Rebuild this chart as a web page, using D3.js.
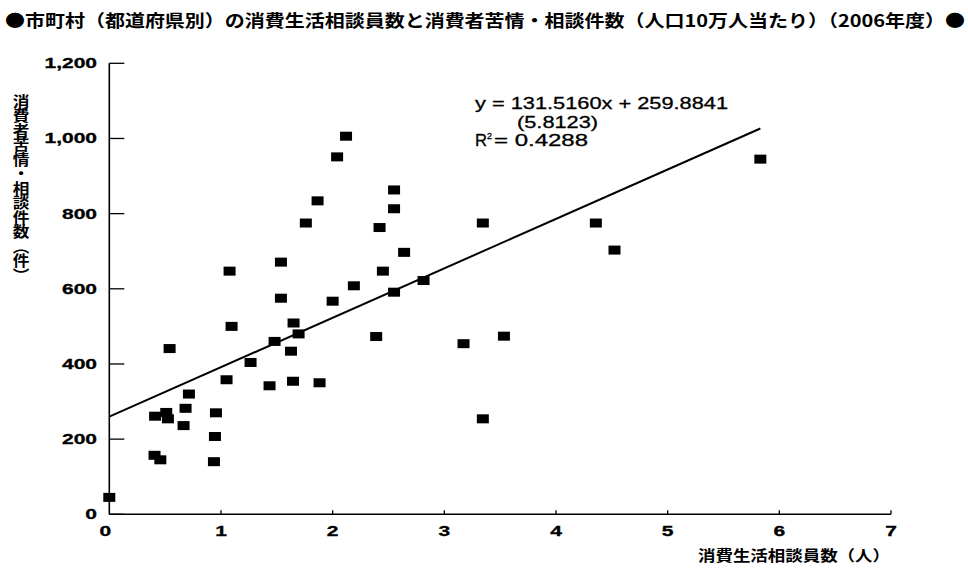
<!DOCTYPE html>
<html><head><meta charset="utf-8">
<script src="https://cdn.jsdelivr.net/npm/d3@7"></script>
<style>
html,body{margin:0;padding:0;background:#fff;}
svg{display:block;}
.cjk{font-family:"Noto Sans CJK JP","Noto Sans CJK SC",sans-serif;font-weight:700;}
.num{font-family:"Liberation Sans",Arial,sans-serif;font-weight:700;stroke:#000;stroke-width:0.3;}
.eq{font-family:"Liberation Sans",Arial,sans-serif;font-weight:400;stroke:#000;stroke-width:0.3;}
</style></head>
<body>
<svg id="chart" width="968" height="569"></svg>
<script>
const titleText = "●市町村（都道府県別）の消費生活相談員数と消費者苦情・相談件数（人口10万人当たり）（2006年度）●";
const yAxisTitle = "消費者苦情・相談件数（件）";
const xAxisTitle = "消費生活相談員数（人）";
const xTicks = [0,1,2,3,4,5,6,7];
const yTicks = [0,200,400,600,800,1000,1200];
// per-prefecture: counselors per 100k (x), complaints per 100k (y)
const counselors = [2.12,2.04,2.55,2.55,1.865,1.76,2.42,2.64,2.45,1.077,1.537,2.19,2.55,1.537,2.0,1.095,1.65,1.695,1.48,1.627,0.54,1.265,2.39,1.05,1.435,1.645,1.883,0.713,0.41,0.51,0.525,0.683,0.665,0.955,0.946,0.405,0.457,0.937,0.0,2.814,3.172,3.534,3.345,3.345,4.357,4.524,5.83];
const complaints = [1006,951,863,813,834,775,763,697,647,647,671,608,591,575,567,500,509,480,460,434,441,404,473,358,342,354,350,320,261,271,254,282,236,270,207,157,145,140,45,622,454,474,775,254,775,703,945];
const slope = 131.5160, intercept = 259.8841;
const eqLines = ["y = 131.5160x + 259.8841", "(5.8123)", "= 0.4288"];

const svg = d3.select("#chart");
const x = d3.scaleLinear().domain([0,7]).range([109.3,891]);
const y = d3.scaleLinear().domain([0,1200]).range([514.3,63.3]);

// title
svg.append("text").attr("class","cjk").attr("x",5).attr("y",27)
  .attr("font-size",17).attr("textLength",960).attr("lengthAdjust","spacingAndGlyphs")
  .text(titleText);

// axes lines
svg.append("line").attr("x1",x(0)).attr("x2",x(0)).attr("y1",y(0)).attr("y2",y(1200))
  .attr("stroke","#000").attr("stroke-width",1.6);
svg.append("line").attr("x1",x(0)).attr("x2",x(7)).attr("y1",y(0)).attr("y2",y(0))
  .attr("stroke","#000").attr("stroke-width",1.6);

// y ticks (inward, long)
svg.selectAll(".yt").data(yTicks).join("line")
  .attr("x1",x(0)).attr("x2",x(0)+15).attr("y1",d=>y(d)).attr("y2",d=>y(d))
  .attr("stroke","#000").attr("stroke-width",1.3);
// x ticks (inward, short)
svg.selectAll(".xt").data(xTicks.slice(1)).join("line")
  .attr("x1",d=>x(d)).attr("x2",d=>x(d)).attr("y1",y(0)).attr("y2",y(0)-4)
  .attr("stroke","#000").attr("stroke-width",1.3);

// y tick labels
svg.selectAll(".yl").data(yTicks).join("g")
  .attr("transform",d=>`translate(97,${y(d)+5}) scale(1.5,1)`)
  .append("text").attr("class","num").attr("font-size",14).attr("text-anchor","end")
  .text(d=>d3.format(",")(d));
// x tick labels
svg.selectAll(".xl").data(xTicks).join("g")
  .attr("transform",d=>`translate(${d===0?x(d)-4:x(d)},536) scale(1.5,1)`)
  .append("text").attr("class","num").attr("font-size",14).attr("text-anchor","middle")
  .text(d=>d);

// axis titles
svg.append("g").attr("transform","translate(21,94) scale(1.15,1)")
  .append("text").attr("class","cjk").attr("font-size",14.5)
  .style("writing-mode","vertical-rl").attr("x",0).attr("y",0)
  .text(yAxisTitle);
svg.append("text").attr("class","cjk").attr("x",698).attr("y",561).attr("font-size",15)
  .attr("textLength",192).attr("lengthAdjust","spacingAndGlyphs").text(xAxisTitle);

// regression line
const xmax = d3.max(counselors);
svg.append("line").attr("x1",x(0)).attr("y1",y(intercept))
  .attr("x2",x(xmax)).attr("y2",y(slope*xmax+intercept))
  .attr("stroke","#000").attr("stroke-width",2);

// points
const pts = counselors.map((c,i)=>({x:c,y:complaints[i]}));
svg.selectAll(".pt").data(pts).join("rect")
  .attr("x",d=>x(d.x)-6).attr("y",d=>y(d.y)-4.5).attr("width",12).attr("height",9)
  .attr("fill","#000");

// equation
svg.append("text").attr("class","eq").attr("x",475).attr("y",109).attr("font-size",16)
  .attr("textLength",253).attr("lengthAdjust","spacingAndGlyphs").text(eqLines[0]);
svg.append("text").attr("class","eq").attr("x",517).attr("y",128).attr("font-size",16)
  .attr("textLength",81).attr("lengthAdjust","spacingAndGlyphs").text(eqLines[1]);
svg.append("text").attr("class","eq").attr("x",475).attr("y",146).attr("font-size",16)
  .attr("textLength",12).attr("lengthAdjust","spacingAndGlyphs").text("R");
svg.append("text").attr("class","eq").attr("x",487).attr("y",139).attr("font-size",9).text("2");
svg.append("text").attr("class","eq").attr("x",494).attr("y",146).attr("font-size",16)
  .attr("textLength",94).attr("lengthAdjust","spacingAndGlyphs").text(eqLines[2]);
</script>
</body></html>
